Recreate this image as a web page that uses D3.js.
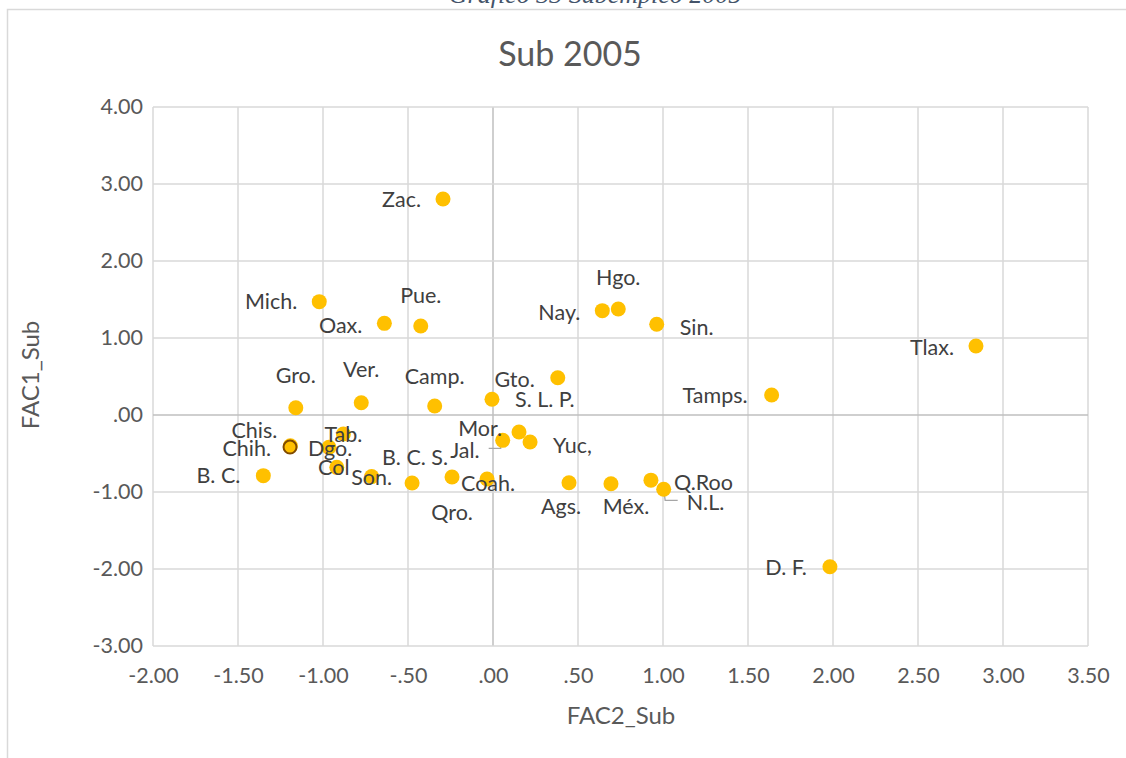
<!DOCTYPE html>
<html>
<head>
<meta charset="utf-8">
<script src="https://cdn.jsdelivr.net/npm/d3@7"></script>
<style>
  html, body { margin: 0; padding: 0; background: #ffffff; }
  svg { display: block; }
</style>
</head>
<body>
<svg id="chart" width="1126" height="758"></svg>
<script>
// Estados y coordenadas factoriales (FAC2_Sub, FAC1_Sub) — Subempleo 2005
const estados = ["Zac.", "Mich.", "Oax.", "Pue.", "Nay.", "Hgo.", "Sin.", "Tlax.",
  "Tamps.", "Gro.", "Ver.", "Camp.", "Gto.", "S. L. P.", "Chis.", "Chih.", "Dgo.",
  "Tab.", "Col", "B. C.", "Son.", "B. C. S.", "Qro.", "Coah.", "Mor.", "Jal.",
  "Yuc,", "Ags.", "Méx.", "Q.Roo", "N.L.", "D. F."];
const fac2 = [-0.294, -1.022, -0.639, -0.425, 0.643, 0.737, 0.963, 2.841,
  1.639, -1.160, -0.775, -0.343, 0.381, -0.006, -1.192, -1.194, -0.965,
  -0.880, -0.919, -1.351, -0.714, -0.241, -0.476, -0.035, 0.153, 0.057,
  0.218, 0.447, 0.694, 0.929, 1.004, 1.982];
const fac1 = [2.805, 1.472, 1.190, 1.156, 1.355, 1.377, 1.178, 0.896,
  0.260, 0.095, 0.160, 0.117, 0.484, 0.204, -0.400, -0.416, -0.420,
  -0.247, -0.680, -0.788, -0.800, -0.805, -0.883, -0.831, -0.221, -0.329,
  -0.351, -0.879, -0.892, -0.846, -0.965, -1.970];
const xTicks = [-2, -1.5, -1, -0.5, 0, 0.5, 1, 1.5, 2, 2.5, 3, 3.5];
const yTicks = [-3, -2, -1, 0, 1, 2, 3, 4];

const chartTitle = "Sub 2005";
const xTitle = "FAC2_Sub";
const yTitle = "FAC1_Sub";
const caption = "Gráfico 33 Subempleo 2005";

// Where each data label sits relative to its marker: [anchor, dx, dy]
const labelPlace = {
  "Zac.": ["end", -22, 0], "Mich.": ["end", -22, 0], "Oax.": ["end", -22, 2],
  "Pue.": ["middle", 0, -31], "Nay.": ["end", -22, 2], "Hgo.": ["middle", 0, -31],
  "Sin.": ["start", 23, 3], "Tlax.": ["end", -22, 1], "Tamps.": ["end", -24, 0],
  "Gro.": ["middle", 0, -32], "Ver.": ["middle", 0, -33], "Camp.": ["middle", 0, -30],
  "Gto.": ["end", -23, 2], "S. L. P.": ["start", 23, 0], "Chis.": ["end", -13, -15],
  "Chih.": ["end", -19, 1], "Dgo.": ["start", -21, 1], "Tab.": ["middle", 0, 0],
  "Col": ["middle", -3, 0], "B. C.": ["end", -23, 0], "Son.": ["middle", 0, 1],
  "B. C. S.": ["middle", -37, -20], "Qro.": ["middle", 40, 29], "Coah.": ["middle", 1, 4],
  "Mor.": ["end", -17, -4], "Jal.": ["end", -23, 10], "Yuc,": ["start", 23, 3],
  "Ags.": ["middle", -8, 24], "Méx.": ["middle", 15, 23], "Q.Roo": ["start", 23, 2],
  "N.L.": ["start", 23, 13], "D. F.": ["end", -23, 1]
};

const fmt = v => {
  if (v === 0) return ".00";
  const s = Math.abs(v).toFixed(2).replace(/^0/, "");
  return (v < 0 ? "-" : "") + s;
};

const svg = d3.select("#chart");
const W = 1126, H = 758;
const FONT = "Lato, 'Open Sans', sans-serif";
const TXT = "#595959";

// outer chart frame
svg.append("path")
  .attr("d", `M7.5,${H} V9.5 H${W}`)
  .attr("fill", "none").attr("stroke", "#d9d9d9").attr("stroke-width", 1.5);

// caption above the chart box (partly cut by the page edge)
svg.append("text")
  .attr("x", 595).attr("y", 3)
  .attr("text-anchor", "middle")
  .attr("font-family", "'Liberation Serif', 'DejaVu Serif', serif")
  .attr("font-style", "italic")
  .attr("font-size", 26)
  .attr("fill", "#44546a")
  .text(caption);

const plot = { left: 153, right: 1088, top: 107, bottom: 646 };
const x = d3.scaleLinear().domain([-2, 3.5]).range([plot.left, plot.right]);
const y = d3.scaleLinear().domain([-3, 4]).range([plot.bottom, plot.top]);

// gridlines
const grid = svg.append("g");
grid.selectAll("line.v").data(xTicks).join("line")
  .attr("x1", d => x(d)).attr("x2", d => x(d))
  .attr("y1", plot.top).attr("y2", plot.bottom)
  .attr("stroke", d => d === 0 ? "#bfbfbf" : "#d9d9d9").attr("stroke-width", 1.5);
grid.selectAll("line.h").data(yTicks).join("line")
  .attr("y1", d => y(d)).attr("y2", d => y(d))
  .attr("x1", plot.left).attr("x2", plot.right)
  .attr("stroke", d => d === 0 ? "#bfbfbf" : "#d9d9d9").attr("stroke-width", 1.5);

// axes (labels only)
const xAxis = d3.axisBottom(x).tickValues(xTicks).tickFormat(fmt).tickSize(0).tickPadding(22);
const yAxis = d3.axisLeft(y).tickValues(yTicks).tickFormat(fmt).tickSize(0).tickPadding(10);
const gx = svg.append("g").attr("transform", `translate(0,${plot.bottom})`).call(xAxis);
const gy = svg.append("g").attr("transform", `translate(${plot.left},0)`).call(yAxis);
[gx, gy].forEach(g => {
  g.select(".domain").remove();
  g.selectAll("text").attr("font-family", FONT).attr("font-size", 21.5).attr("fill", TXT);
});

// titles
svg.append("text").attr("x", 570).attr("y", 66).attr("text-anchor", "middle")
  .attr("font-family", FONT).attr("font-size", 34).attr("fill", TXT).text(chartTitle);
svg.append("text").attr("x", 621).attr("y", 724).attr("text-anchor", "middle")
  .attr("font-family", FONT).attr("font-size", 24).attr("fill", TXT).text(xTitle);
svg.append("text").attr("transform", "translate(39,375) rotate(-90)").attr("text-anchor", "middle")
  .attr("font-family", FONT).attr("font-size", 24).attr("fill", TXT).text(yTitle);

const data = estados.map((n, i) => ({ name: n, fx: fac2[i], fy: fac1[i] }));

// leader lines for displaced labels
const leaders = svg.append("g").attr("fill", "none").attr("stroke", "#a6a6a6").attr("stroke-width", 1.3);
const jal = data.find(d => d.name === "Jal.");
leaders.append("path")
  .attr("d", `M${x(jal.fx) - 14},${y(jal.fy) + 8} H${x(jal.fx) - 2} V${y(jal.fy)}`);
const nl = data.find(d => d.name === "N.L.");
leaders.append("path")
  .attr("d", `M${x(nl.fx)},${y(nl.fy)} L${x(nl.fx) + 1.5},${y(nl.fy) + 11} H${x(nl.fx) + 14}`);

// markers
svg.append("g").selectAll("circle").data(data).join("circle")
  .attr("cx", d => x(d.fx)).attr("cy", d => y(d.fy))
  .attr("fill", "#ffc000")
  .attr("stroke", d => d.name === "Chih." ? "#7f4a00" : "none")
  .attr("stroke-width", d => d.name === "Chih." ? 2 : 0)
  .attr("r", d => d.name === "Chih." ? 6.5 : 7.5);

// data labels
svg.append("g").selectAll("text").data(data).join("text")
  .attr("x", d => x(d.fx) + labelPlace[d.name][1])
  .attr("y", d => y(d.fy) + labelPlace[d.name][2])
  .attr("dy", "0.35em")
  .attr("text-anchor", d => labelPlace[d.name][0])
  .attr("font-family", FONT).attr("font-size", 21.5).attr("fill", "#404040")
  .text(d => d.name);
</script>
</body>
</html>
